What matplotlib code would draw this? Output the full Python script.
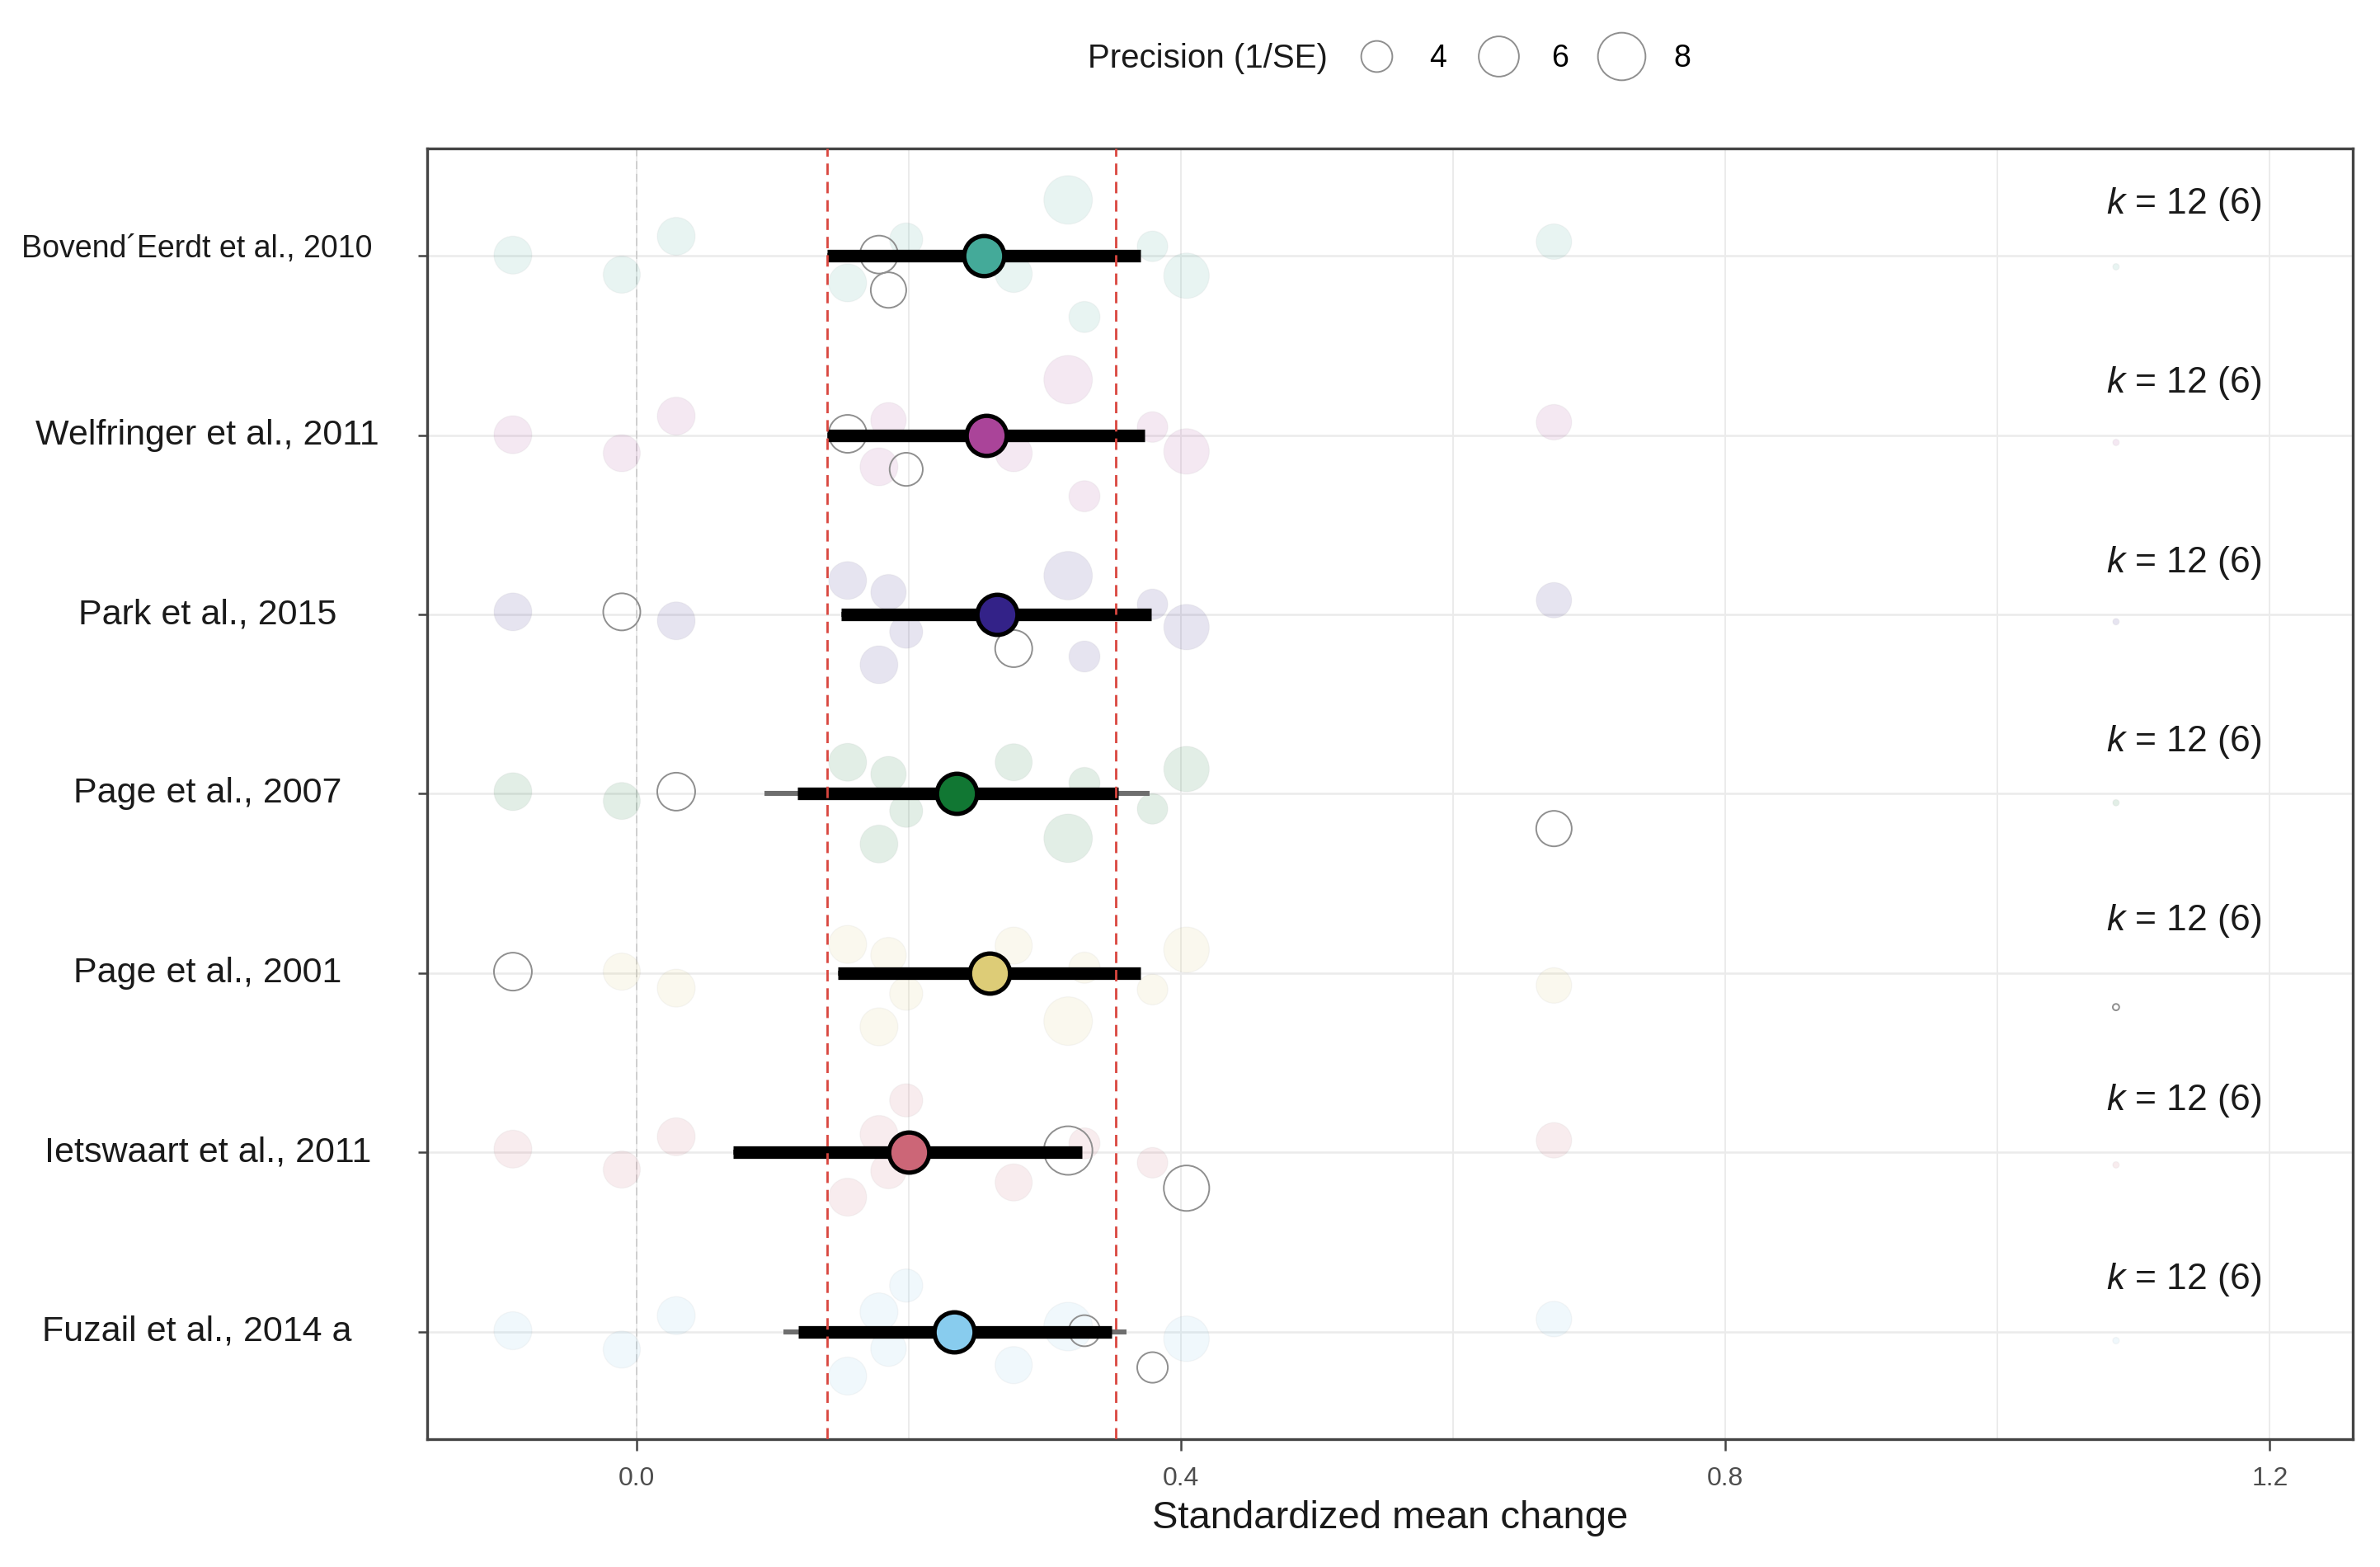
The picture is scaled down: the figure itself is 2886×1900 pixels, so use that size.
import numpy as np
import matplotlib
matplotlib.use("Agg")
import matplotlib.pyplot as plt
from matplotlib.lines import Line2D

plt.rcParams['font.family'] = ['Liberation Sans', 'DejaVu Sans']
plt.rcParams['mathtext.fontset'] = 'custom'
plt.rcParams['mathtext.it'] = 'Liberation Sans:italic'
plt.rcParams['mathtext.rm'] = 'Liberation Sans'

# ---------------- data ----------------
studies = ["Bovend´Eerdt et al., 2010", "Welfringer et al., 2011", "Park et al., 2015",
           "Page et al., 2007", "Page et al., 2001", "Ietswaart et al., 2011",
           "Fuzail et al., 2014 a"]
colors = ["#44AA99", "#AA4499", "#332288", "#117733", "#DDCC77", "#CC6677", "#88CCEE"]

est = [0.255, 0.257, 0.265, 0.235, 0.259, 0.200, 0.233]
ci_lo = [0.140, 0.140, 0.150, 0.118, 0.148, 0.071, 0.119]
ci_hi = [0.370, 0.373, 0.378, 0.354, 0.370, 0.327, 0.349]
pi_lo = [0.140, 0.140, 0.150, 0.094, 0.148, 0.071, 0.108]
pi_hi = [0.370, 0.373, 0.378, 0.377, 0.370, 0.327, 0.360]
k_effects = [12, 12, 12, 12, 12, 12, 12]
k_studies = [6, 6, 6, 6, 6, 6, 6]

# individual effect sizes, their precision (1/SE) and the study they belong to
effect_x = [-0.091, -0.011, 0.029, 0.155, 0.178, 0.185, 0.198, 0.277,
            0.317, 0.329, 0.379, 0.404, 0.674, 1.087]
precision = [5.45, 5.26, 5.45, 5.45, 5.45, 4.9, 4.4, 5.26,
             8.3, 4.0, 3.9, 7.4, 4.9, 1.13]
effect_study = [4, 2, 3, 1, 0, 0, 1, 2, 5, 6, 6, 5, 3, 4]

# vertical jitter of the effect-size points within each study row
jitter = [
    [0.005, -0.104, 0.110, -0.150, 0.008, -0.190, 0.092, -0.100, 0.313, -0.340, 0.054, -0.110, 0.080, -0.06],
    [0.003, -0.100, 0.107, 0.008, -0.176, 0.084, -0.190, -0.100, 0.310, -0.340, 0.046, -0.090, 0.073, -0.04],
    [0.015, 0.015, -0.035, 0.190, -0.280, 0.125, -0.096, -0.190, 0.217, -0.234, 0.057, -0.070, 0.080, -0.04],
    [0.012, -0.040, 0.012, 0.176, -0.280, 0.110, -0.095, 0.176, -0.248, 0.061, -0.084, 0.138, -0.194, -0.05],
    [0.008, 0.008, -0.084, 0.160, -0.300, 0.100, -0.115, 0.153, -0.268, 0.030, -0.092, 0.130, -0.069, -0.19],
    [0.018, -0.096, 0.087, -0.250, 0.100, -0.104, 0.290, -0.168, 0.010, 0.050, -0.058, -0.200, 0.067, -0.07],
    [0.005, -0.100, 0.089, -0.248, 0.110, -0.095, 0.257, -0.187, 0.028, 0.005, -0.200, -0.040, 0.070, -0.05],
]

red_lines = [0.140, 0.352]
xticks = [0.0, 0.4, 0.8, 1.2]
xminor = [0.2, 0.6, 1.0]
legend_prec = [4, 6, 8]

# ---------------- style ----------------
label_fs = [13.5, 15.5, 15.5, 15.5, 15.5, 15.5, 15.5]
label_dy = [0.04, 0, 0, 0, 0, 0, 0]
label_x = [-0.1195, -0.114, -0.114, -0.114, -0.114, -0.114, -0.1195]

# ---------------- figure ----------------
DPI = 200
fig = plt.figure(figsize=(2886 / DPI, 1900 / DPI), dpi=DPI)
ax = fig.add_axes([518 / 2886, 1 - 1745 / 1900, (2853 - 518) / 2886, (1745 - 180) / 1900])


def prec_to_pt(p):
    p = np.asarray(p, dtype=float)
    d_px = 21.8 * np.sqrt(np.maximum(p - 1.0, 0.0))
    return d_px * 72.0 / DPI


n = len(studies)
row_y = np.arange(n, 0, -1)
ex = np.array(effect_x)
sizes_pt = prec_to_pt(precision)
owner = np.array(effect_study)

grid_c = "#ebebeb"
for xv in xticks + xminor:
    ax.axvline(xv, color=grid_c, lw=0.7, zorder=0)
for yv in row_y:
    ax.axhline(yv, color=grid_c, lw=0.9, zorder=0)
ax.axvline(0.0, color="#cfcfcf", lw=0.7, ls=(0, (5, 3)), zorder=0.5)

for i in range(n):
    y = row_y[i] + np.array(jitter[i])
    other = owner != i
    own = owner == i
    col = matplotlib.colors.to_rgba(colors[i])
    ax.scatter(ex[other], y[other], s=sizes_pt[other] ** 2,
               facecolor=(col[0], col[1], col[2], 0.12),
               edgecolor=(0.5, 0.5, 0.5, 0.06), linewidths=0.5, zorder=1)
    ax.scatter(ex[own], y[own], s=sizes_pt[own] ** 2, facecolor="none",
               edgecolor="#8f8f8f", linewidths=0.7, zorder=2)
    ax.plot([pi_lo[i], pi_hi[i]], [row_y[i]] * 2, color="#6e6e6e", lw=2.2,
            solid_capstyle="butt", zorder=3)
    ax.plot([ci_lo[i], ci_hi[i]], [row_y[i]] * 2, color="black", lw=5.5,
            solid_capstyle="butt", zorder=4)
    ax.plot([est[i]], [row_y[i]], marker="o", ms=17.5, mfc=colors[i], mec="black",
            mew=1.9, zorder=6)
    ax.text(1.137, row_y[i] + 0.29, f"$k$ = {k_effects[i]} ({k_studies[i]})",
            ha="center", va="center", fontsize=16, color="#1a1a1a", zorder=7)
    ax.text(label_x[i], row_y[i] + label_dy[i], studies[i], transform=ax.get_yaxis_transform(),
            ha="center", va="center", fontsize=label_fs[i], color="#1a1a1a")

for xv in red_lines:
    ax.axvline(xv, color="#d9463f", lw=1.0, ls=(0, (5, 3)), zorder=5)

ax.set_xlim(-0.154, 1.261)
ax.set_ylim(0.4, 7.6)
ax.set_xticks(xticks)
ax.set_xticklabels([f"{v:.1f}" for v in xticks])
ax.set_yticks(row_y)
ax.set_yticklabels([""] * n)
ax.tick_params(axis="x", length=5, width=0.9, color="#444444", labelsize=11.5,
               labelcolor="#4d4d4d", pad=7)
ax.tick_params(axis="y", length=4, width=0.9, color="#444444")
for sp in ax.spines.values():
    sp.set_color("#444444")
    sp.set_linewidth(1.2)
ax.set_xlabel("Standardized mean change", fontsize=17, color="#1a1a1a", labelpad=4)

# legend
leg_y = 1 - 71 / 1900
handles = [Line2D([], [], ls="none", marker="o", ms=float(prec_to_pt(p)), mfc="white",
                  mec="#8f8f8f", mew=0.7) for p in legend_prec]
fig.legend(handles, [str(p) for p in legend_prec], ncol=3, frameon=False,
           loc="center left", bbox_to_anchor=(1639 / 2886, leg_y),
           borderaxespad=0, borderpad=0, handlelength=1.6, handletextpad=0.9,
           columnspacing=0.9, fontsize=13.5)
fig.text(1610 / 2886, leg_y, "Precision (1/SE)", ha="right", va="center",
         fontsize=14.5, color="#1a1a1a")

fig.savefig("out.png", dpi=DPI, facecolor="white")
